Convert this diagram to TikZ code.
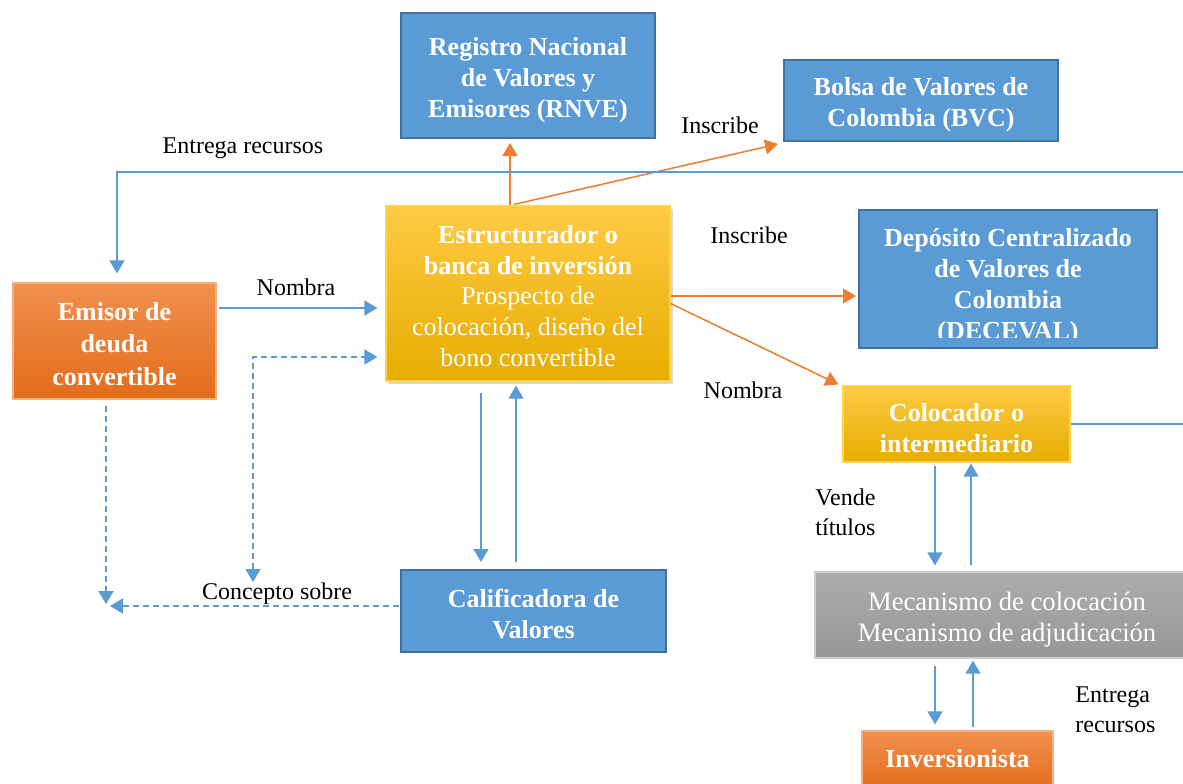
\documentclass[tikz,border=0pt]{standalone}
\usepackage{fontspec}
\setmainfont{Liberation Serif}
\usetikzlibrary{arrows.meta,calc,shadows}
\definecolor{bfill}{HTML}{5B9BD5}
\definecolor{bline}{HTML}{41719C}
\definecolor{oline}{HTML}{ED7D31}
\definecolor{ytop}{HTML}{FFCA45}
\definecolor{ymid}{HTML}{FFC000}
\definecolor{ybot}{HTML}{E6AD00}
\definecolor{otop}{HTML}{F1904F}
\definecolor{obot}{HTML}{E46C1A}
\definecolor{gtop}{HTML}{ADADAD}
\definecolor{gbot}{HTML}{979797}
\begin{document}
\begin{tikzpicture}[x=0.5pt,y=-0.5pt,
  boxtxt/.style={font=\fontsize{13}{15.5}\selectfont\bfseries, text=white, align=center, inner sep=0pt},
  bluebox/.style={draw=bline, line width=1pt, fill=bfill, boxtxt},
  yellowbox/.style={draw=ymid!70!white, line width=0.6pt, top color=ytop, middle color=ymid, bottom color=ybot, boxtxt},
  orangebox/.style={draw=otop!70!white, line width=0.6pt, top color=otop, bottom color=obot, boxtxt},
  graybox/.style={draw=gtop!60!white, line width=0.6pt, top color=gtop, bottom color=gbot, boxtxt, font=\fontsize{13.3}{15.5}\selectfont},
  tip/.style={-{Triangle[length=6.5pt,width=7.5pt]}},
  barrow/.style={draw=bfill, line width=0.75pt, tip},
  dbarrow/.style={barrow, dashed, dash pattern=on 3pt off 2pt},
  oarrow/.style={draw=oline, line width=0.75pt, tip},
  lbl/.style={font=\fontsize{12}{15}\selectfont, inner sep=0pt, align=left, text=black}]
\clip (0,0) rectangle (1183,783);
\fill[white] (0,0) rectangle (1183,783);

% boxes
\node[bluebox, minimum width=127pt, minimum height=62.5pt] (rnve) at (528,75.5) {};
\node[boxtxt] (rnvet) at (528,80) {Registro Nacional\\de Valores y\\Emisores (RNVE)};
\node[bluebox, minimum width=137pt, minimum height=40.5pt] (bvc) at (921,100.5) {};
\node[boxtxt] (bvct) at (921,105) {Bolsa de Valores de\\Colombia (BVC)};
\node[yellowbox, minimum width=142pt, minimum height=87.5pt,
      drop shadow={shadow xshift=1.5pt, shadow yshift=-1.5pt, opacity=0.3}] (est) at (528,293.5) {};
\node[boxtxt] (estt) at (528,296) {Estructurador o\\banca de inversión\\[-0.5pt]
  \fontseries{m}\selectfont Prospecto de\\\fontseries{m}\selectfont colocación, diseño del\\\fontseries{m}\selectfont bono convertible};
\node[bluebox, minimum width=149pt, minimum height=69pt] (dec) at (1008,279) {};
\begin{scope}
  \clip ($(dec.south west)+(0,-12)$) rectangle (dec.north east);
  \node[boxtxt] (dect) at (1008,286.5) {Depósito Centralizado\\de Valores de\\Colombia\\(DECEVAL)};
\end{scope}
\node[orangebox, minimum width=101.5pt, minimum height=58pt] (emi) at (114.5,341) {};
\node[boxtxt, font=\fontsize{13}{16.25}\selectfont\bfseries] (emit) at (114.5,344) {Emisor de\\deuda\\convertible};
\node[yellowbox, minimum width=113.5pt, minimum height=38pt] (col) at (956.5,424) {};
\node[boxtxt] (colt) at (956.5,428) {Colocador o\\intermediario};
\node[graybox, minimum width=192pt, minimum height=43pt] (mec) at (1007,615) {};
\node[boxtxt, font=\fontsize{13.3}{15.5}\selectfont] (mect) at (1007,620) {Mecanismo de colocación\\Mecanismo de adjudicación};
\node[orangebox, minimum width=95.5pt, minimum height=30pt] (inv) at (957.5,761) {};
\node[boxtxt] (invt) at (957.5,759) {Inversionista};
\node[bluebox, minimum width=132.5pt, minimum height=41pt] (cal) at (533.5,611) {};
\node[boxtxt] (calt) at (533.5,614) {Calificadora de\\Valores};

% orange connectors
\draw[oarrow] ($(est.north)+(-18,0)$) -- ($(rnve.south)+(-18,4)$);
\draw[oarrow] ($(est.north)+(-14,-1)$) -- ($(bvc.south west)+(-5,2)$);
\draw[oarrow] ($(est.east)+(0,2.5)$) -- ($(dec.west)+(-2,17)$);
\draw[oarrow] ($(est.east)+(0,10)$) -- ($(col.north west)+(-4,-1)$);

% blue connectors
\coordinate (rt) at (1200,172);
\draw[barrow] (col.east) -| (rt) -| ($(emi.north)+(2.5,-9)$);
\draw[barrow, shorten >=4pt] ($(emi.east)+(2,-33)$) coordinate (n1) -- (n1 -| est.west);
\coordinate (c1) at (253,582);
\draw[dbarrow, {Triangle[length=6.5pt,width=7.5pt]}-{Triangle[length=6.5pt,width=7.5pt]}] (c1) |- ($(est.west)+(-8,63.5)$);
\coordinate (c2) at (106,604);
\draw[dbarrow] ($(emi.south)+(-8.5,6)$) -- (c2);
\draw[dbarrow, shorten >=2pt] ($(cal.west)+(-1,-5)$) coordinate (c3) -- (c3 -| c2);
\draw[barrow, shorten >=3.5pt] ($(est.south)+(-47,11)$) coordinate (p1) -- (p1 |- cal.north);
\draw[barrow, shorten >=2pt] ($(cal.north)+(-17.5,-7)$) coordinate (p2) -- (p2 |- est.south);
\draw[barrow, shorten >=3pt] ($(col.south)+(-21.5,3)$) coordinate (q1) -- (q1 |- mec.north);
\draw[barrow, shorten >=0.5pt] ($(mec.north)+(-36,-6)$) coordinate (q2) -- (q2 |- col.south);
\draw[barrow, shorten >=3pt] ($(mec.south)+(-72,7)$) coordinate (r1) -- (r1 |- inv.north);
\draw[barrow, shorten >=1pt] ($(inv.north)+(15.5,-3)$) coordinate (r2) -- (r2 |- mec.south);

% labels
\node[lbl] (l1) at (243,148) {Entrega recursos};
\node[lbl] (l2) at (296,287) {Nombra};
\node[lbl] (l3) at (720,125) {Inscribe};
\node[lbl] (l4) at (749,235) {Inscribe};
\node[lbl] (l5) at (743,390) {Nombra};
\begin{scope}
  \clip (150,570) rectangle (400,603);
  \node[lbl] (l6) at (277,594) {Concepto sobre};
\end{scope}
\node[lbl, anchor=west] (l7) at (815,512) {Vende\\títulos};
\node[lbl, anchor=west] (l8) at (1075,710) {Entrega\\recursos};
\end{tikzpicture}
\end{document}
